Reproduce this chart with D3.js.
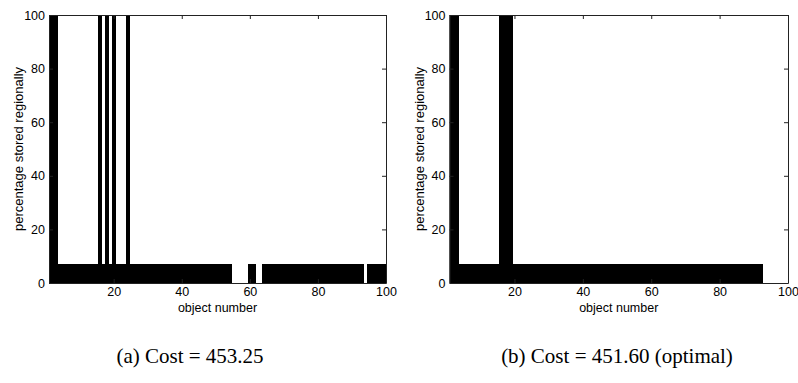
<!DOCTYPE html>
<html>
<head>
<meta charset="utf-8">
<script src="https://cdn.jsdelivr.net/npm/d3@7"></script>
<style>
  body { margin: 0; background: #fff; }
  svg { display: block; }
  .tick line, .domain { stroke: #222; }
  .tick text { font-family: "Liberation Sans", Arial, sans-serif; font-size: 12.5px; fill: #000; }
  .axis-label { font-family: "Liberation Sans", Arial, sans-serif; font-size: 13px; fill: #000; }
  .x-label { font-size: 12.5px; }
  .caption { font-family: "Liberation Serif", "DejaVu Serif", serif; font-size: 21px; fill: #000; }
</style>
</head>
<body>
<svg id="chart"></svg>
<script>
// object numbers 1..100
const objects = d3.range(1, 101);

// (a) percentage stored regionally per object
const costA = [
  100, 100, 100, 7, 7, 7, 7, 7, 7, 7,
  7, 7, 7, 7, 7, 100, 7, 100, 7, 100,
  7, 7, 7, 100, 7, 7, 7, 7, 7, 7,
  7, 7, 7, 7, 7, 7, 7, 7, 7, 7,
  7, 7, 7, 7, 7, 7, 7, 7, 7, 7,
  7, 7, 7, 7, 0, 0, 0, 0, 0, 7,
  7, 0, 0, 7, 7, 7, 7, 7, 7, 7,
  7, 7, 7, 7, 7, 7, 7, 7, 7, 7,
  7, 7, 7, 7, 7, 7, 7, 7, 7, 7,
  7, 7, 7, 0, 7, 7, 7, 7, 7, 7
];

// (b) optimal solution
const costB = [
  100, 100, 100, 7, 7, 7, 7, 7, 7, 7,
  7, 7, 7, 7, 7, 100, 100, 100, 100, 7,
  7, 7, 7, 7, 7, 7, 7, 7, 7, 7,
  7, 7, 7, 7, 7, 7, 7, 7, 7, 7,
  7, 7, 7, 7, 7, 7, 7, 7, 7, 7,
  7, 7, 7, 7, 7, 7, 7, 7, 7, 7,
  7, 7, 7, 7, 7, 7, 7, 7, 7, 7,
  7, 7, 7, 7, 7, 7, 7, 7, 7, 7,
  7, 7, 7, 7, 7, 7, 7, 7, 7, 7,
  7, 7, 0, 0, 0, 0, 0, 0, 0, 0
];

const xTicks = [20, 40, 60, 80, 100];
const yTicks = [0, 20, 40, 60, 80, 100];
const captions = ["(a) Cost = 453.25", "(b) Cost = 451.60 (optimal)"];

const width = 798;
const height = 383;
const panels = [
  { values: costA, left: 49, right: 386, caption: captions[0], capX: 190 },
  { values: costB, left: 449.5, right: 788, caption: captions[1], capX: 617 }
];
const plotTop = 15, plotBottom = 283;
const tick = 4;

const svg = d3.select("#chart")
  .attr("width", width)
  .attr("height", height);

panels.forEach((p, i) => drawPanel(p, i));

function drawPanel(p, i) {
  const x = d3.scaleLinear().domain([1, 100]).range([p.left, p.right]);
  const y = d3.scaleLinear().domain([0, 100]).range([plotBottom, plotTop]);

  const clipId = "clip" + i;
  svg.append("clipPath").attr("id", clipId)
    .append("rect")
    .attr("x", p.left).attr("y", plotTop)
    .attr("width", p.right - p.left).attr("height", plotBottom - plotTop);

  // bars, width 1 so neighbours touch (small overlap hides seams)
  svg.append("g")
    .attr("clip-path", `url(#${clipId})`)
    .attr("shape-rendering", "crispEdges")
    .selectAll("rect")
    .data(objects)
    .join("rect")
    .attr("x", d => x(d - 0.5))
    .attr("width", d => x(d + 0.5) - x(d - 0.5) + 0.6)
    .attr("y", d => y(p.values[d - 1]))
    .attr("height", d => y(0) - y(p.values[d - 1]))
    .attr("fill", "#000");

  // axes, ticks point inwards like matlab
  svg.append("g")
    .attr("transform", `translate(0,${plotBottom})`)
    .call(d3.axisBottom(x).tickValues(xTicks).tickSizeInner(-tick).tickSizeOuter(0).tickPadding(4));

  svg.append("g")
    .attr("transform", `translate(0,${plotTop})`)
    .call(d3.axisTop(x).tickValues(xTicks).tickSizeInner(-tick).tickSizeOuter(0).tickFormat(""));

  svg.append("g")
    .attr("transform", `translate(${p.left},0)`)
    .call(d3.axisLeft(y).tickValues(yTicks).tickSizeInner(-tick).tickSizeOuter(0).tickPadding(4));

  svg.append("g")
    .attr("transform", `translate(${p.right},0)`)
    .call(d3.axisRight(y).tickValues(yTicks).tickSizeInner(-tick).tickSizeOuter(0).tickFormat(""));

  svg.selectAll(".domain").attr("stroke-width", 1);

  svg.append("text")
    .attr("class", "axis-label")
    .attr("text-anchor", "middle")
    .attr("transform", `translate(${p.left - 26},${(plotTop + plotBottom) / 2}) rotate(-90)`)
    .text("percentage stored regionally");

  svg.append("text")
    .attr("class", "axis-label x-label")
    .attr("text-anchor", "middle")
    .attr("x", (p.left + p.right) / 2)
    .attr("y", 312)
    .text("object number");

  svg.append("text")
    .attr("class", "caption")
    .attr("text-anchor", "middle")
    .attr("x", p.capX)
    .attr("y", 363)
    .text(p.caption);
}
</script>
</body>
</html>
